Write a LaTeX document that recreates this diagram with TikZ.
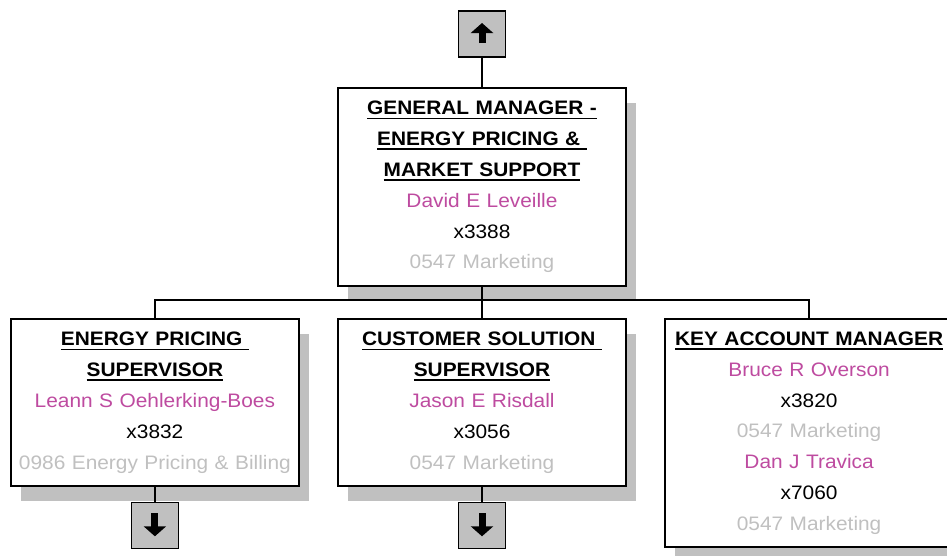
\documentclass[tikz,border=0pt]{standalone}
\usepackage{fontspec}
\setmainfont{Liberation Sans}[FakeStretch=1.07]
\usetikzlibrary{positioning, shadows, arrows.meta}
\definecolor{namepink}{RGB}{190,75,160}
\definecolor{deptgray}{RGB}{192,192,192}
\definecolor{shadegray}{RGB}{192,192,192}
\newcommand{\titleline}[1]{\leavevmode\setbox0\hbox{\bfseries #1}\rlap{\rule[-4.5pt]{\wd0}{1.8pt}}\box0}
\newcommand{\who}[1]{\textcolor{namepink}{#1}}
\newcommand{\dept}[1]{\textcolor{deptgray}{#1}}

\begin{document}
\begin{tikzpicture}[
    x=1pt, y=1pt,
    node distance=31.5pt and 37.5pt,
    box/.style={rectangle, draw, line width=1.6pt, fill=white,
                text width=284pt, inner xsep=2pt, inner ysep=0pt, align=center,
                font=\fontsize{19.5}{30.8}\selectfont,
                general shadow={fill=shadegray, shadow xshift=10pt, shadow yshift=-15pt}},
    navbox/.style={rectangle, draw, line width=1.6pt, fill=shadegray,
                   minimum width=47pt, minimum height=46pt, inner sep=0pt},
    upnavbox/.style={navbox, path picture={
        \draw[line width=7pt, -{Triangle[length=10pt, width=22pt]}]
          ([yshift=-9pt]path picture bounding box.center) -- ([yshift=11pt]path picture bounding box.center);}},
    downnavbox/.style={navbox, path picture={
        \draw[line width=7pt, -{Triangle[length=10pt, width=22pt]}]
          ([yshift=12pt]path picture bounding box.center) -- ([yshift=-11pt]path picture bounding box.center);}},
    link/.style={line width=1.6pt},
  ]
  \useasboundingbox (0,0) rectangle (947,-555);

  % Top
  \node[upnavbox] (upnav) at (482,-34) {};
  \node[box, below=29.5pt of upnav, minimum height=198pt] (gm)
    {\titleline{GENERAL MANAGER -}\\ \titleline{ENERGY PRICING \&\ }\\
     \titleline{MARKET SUPPORT}\\ \who{David E Leveille}\\ x3388\\ \dept{0547 Marketing}};

  % Reports
  \node[box, below=of gm, minimum height=167pt] (csup)
    {\titleline{CUSTOMER SOLUTION\ }\\ \titleline{SUPERVISOR}\\
     \who{Jason E Risdall}\\ x3056\\ \dept{0547 Marketing}};
  \node[box, left=of csup, minimum height=167pt] (epsup)
    {\titleline{ENERGY PRICING\ }\\ \titleline{SUPERVISOR}\\
     \who{Leann S Oehlerking-Boes}\\ x3832\\ \dept{0986 Energy Pricing \& Billing}};
  \node[box, right=37.5pt of csup.north east, anchor=north west, minimum height=228pt] (kam)
    {\titleline{KEY ACCOUNT MANAGER}\\ \who{Bruce R Overson}\\ x3820\\ \dept{0547 Marketing}\\
     \who{Dan J Travica}\\ x7060\\ \dept{0547 Marketing}};

  % Down links
  \node[downnavbox, below=14.5pt of epsup] (epnav) {};
  \node[downnavbox, below=14.5pt of csup] (csnav) {};

  % Connectors
  \coordinate[below=13.2pt of gm.south] (bus);
  \draw[link] (upnav) -- (gm);
  \draw[link] (gm) -- (csup);
  \draw[link] (epsup) |- (bus) -| (kam);
  \draw[link] (epsup) -- (epnav);
  \draw[link] (csup) -- (csnav);
\end{tikzpicture}
\end{document}
